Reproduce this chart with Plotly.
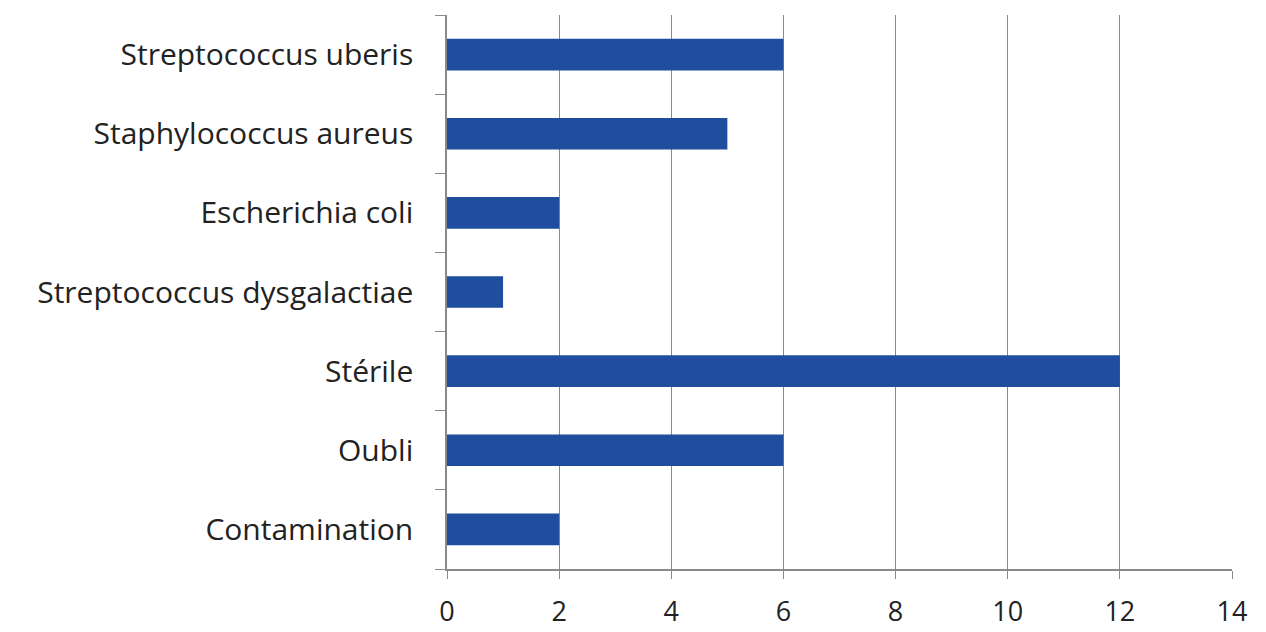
import plotly.graph_objects as go

# Categories listed top to bottom
categories = [
    "Streptococcus uberis",
    "Staphylococcus aureus",
    "Escherichia coli",
    "Streptococcus dysgalactiae",
    "Stérile",
    "Oubli",
    "Contamination",
]
counts = [6, 5, 2, 1, 12, 6, 2]
x_ticks = [0, 2, 4, 6, 8, 10, 12, 14]

fig = go.Figure(
    go.Bar(
        x=counts,
        y=categories,
        orientation="h",
        marker=dict(color="#1F4E9F", line=dict(width=0)),
        width=0.4,
    )
)

fig.update_layout(
    width=1266,
    height=632,
    margin=dict(l=447, r=34, t=15, b=63),
    plot_bgcolor="white",
    paper_bgcolor="white",
    showlegend=False,
    font=dict(family="Open Sans", size=30, color="#222222"),
)

fig.update_xaxes(
    range=[0, 14],
    tickvals=x_ticks,
    automargin=False,
    showgrid=True,
    gridcolor="#8a8a8a",
    gridwidth=1,
    zeroline=False,
    showline=True,
    linecolor="#8a8a8a",
    linewidth=1.5,
    ticks="outside",
    ticklen=8,
    tickcolor="#8a8a8a",
    ticklabelstandoff=10,
    tickfont=dict(size=27, color="#222222"),
)

fig.update_yaxes(
    categoryorder="array",
    categoryarray=categories[::-1],
    automargin=False,
    showgrid=False,
    zeroline=False,
    showline=True,
    linecolor="#8a8a8a",
    linewidth=1.5,
    ticks="outside",
    tickson="boundaries",
    ticklen=10,
    tickcolor="#8a8a8a",
    ticklabelstandoff=26,
)

fig.write_html("out.html")
